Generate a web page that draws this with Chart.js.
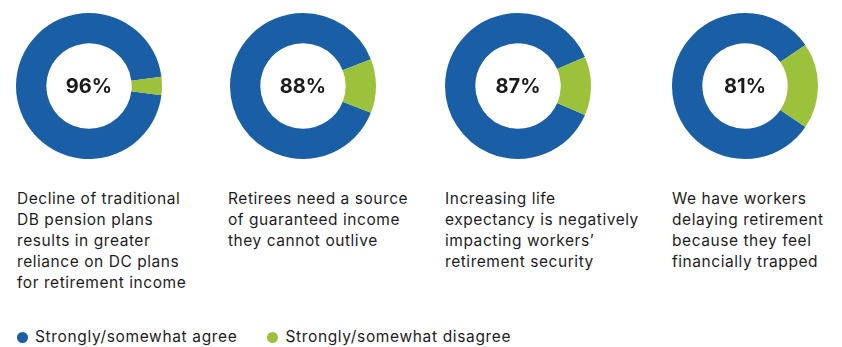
<!DOCTYPE html>
<html>
<head>
<meta charset="utf-8">
<script src="https://cdn.jsdelivr.net/npm/chart.js@4/dist/chart.umd.min.js"></script>
<style>
  html, body { margin: 0; padding: 0; background: #ffffff; }
  body { width: 842px; height: 347px; position: relative; overflow: hidden; font-family: Inter, "Open Sans", sans-serif; color: #1d1d1d; }
  .donut { position: absolute; width: 146px; height: 146px; }
  .cap { position: absolute; top: 188px; font-size: 15.5px; line-height: 21px; letter-spacing: 0.55px; width: 215px; white-space: nowrap; }
  .legend { position: absolute; top: 327px; left: 17px; font-size: 15.5px; line-height: 20px; letter-spacing: 0.65px; display: flex; }
  .legend .item { display: flex; align-items: center; margin-right: 30px; }
  .legend .dot { width: 11px; height: 11px; border-radius: 50%; margin-right: 7px; }
</style>
</head>
<body>
<script>
// ---- data ----
const categories = [
  ["Decline of traditional", "DB pension plans", "results in greater", "reliance on DC plans", "for retirement income"],
  ["Retirees need a source", "of guaranteed income", "they cannot outlive"],
  ["Increasing life", "expectancy is negatively", "impacting workers\u2019", "retirement security"],
  ["We have workers", "delaying retirement", "because they feel", "financially trapped"]
];
const seriesNames = ["Strongly/somewhat agree", "Strongly/somewhat disagree"];
const agreeValues = [96, 88, 87, 81];
const disagreeValues = [4, 12, 13, 19];
const centerLabels = ["96%", "88%", "87%", "81%"];
const colors = ["#1a5fa5", "#9cc23c"];

// ---- layout ----
const centersX = [88.5, 303, 518, 745];
const centerY = 85.5;
const captionLeft = [17, 228, 445, 672];
const R = 73;

const centerTextPlugin = {
  id: 'centerText',
  afterDraw(chart, args, opts) {
    const ctx = chart.ctx;
    const meta = chart.getDatasetMeta(0);
    const arc = meta.data[0];
    if (!arc) return;
    ctx.save();
    ctx.font = '700 20px Inter, "Open Sans", sans-serif';
    ctx.fillStyle = '#1b1b1b';
    ctx.textAlign = 'center';
    ctx.textBaseline = 'middle';
    ctx.fillText(opts.text, arc.x, arc.y + 1);
    ctx.restore();
  }
};

agreeValues.forEach((a, i) => {
  const d = disagreeValues[i];
  const wrap = document.createElement('div');
  wrap.className = 'donut';
  wrap.style.left = (centersX[i] - R) + 'px';
  wrap.style.top = (centerY - R) + 'px';
  const cv = document.createElement('canvas');
  cv.width = 2 * R; cv.height = 2 * R;
  cv.style.width = (2 * R) + 'px'; cv.style.height = (2 * R) + 'px';
  wrap.appendChild(cv);
  document.body.appendChild(wrap);
  new Chart(cv, {
    type: 'doughnut',
    data: {
      labels: seriesNames,
      datasets: [{ data: [a, d], backgroundColor: colors, borderWidth: 0 }]
    },
    options: {
      responsive: false,
      animation: false,
      cutout: '58.5%',
      rotation: 90 + d * 1.8,
      layout: { padding: 0 },
      plugins: {
        legend: { display: false },
        tooltip: { enabled: false },
        centerText: { text: centerLabels[i] }
      }
    },
    plugins: [centerTextPlugin]
  });

  const cap = document.createElement('div');
  cap.className = 'cap';
  cap.style.left = captionLeft[i] + 'px';
  cap.innerHTML = categories[i].map(s => s.replace(/&/g, '&amp;')).join('<br>');
  document.body.appendChild(cap);
});

const leg = document.createElement('div');
leg.className = 'legend';
seriesNames.forEach((n, i) => {
  const it = document.createElement('div');
  it.className = 'item';
  const dot = document.createElement('span');
  dot.className = 'dot';
  dot.style.background = colors[i];
  const t = document.createElement('span');
  t.textContent = n;
  it.appendChild(dot); it.appendChild(t);
  leg.appendChild(it);
});
document.body.appendChild(leg);
</script>
</body>
</html>
